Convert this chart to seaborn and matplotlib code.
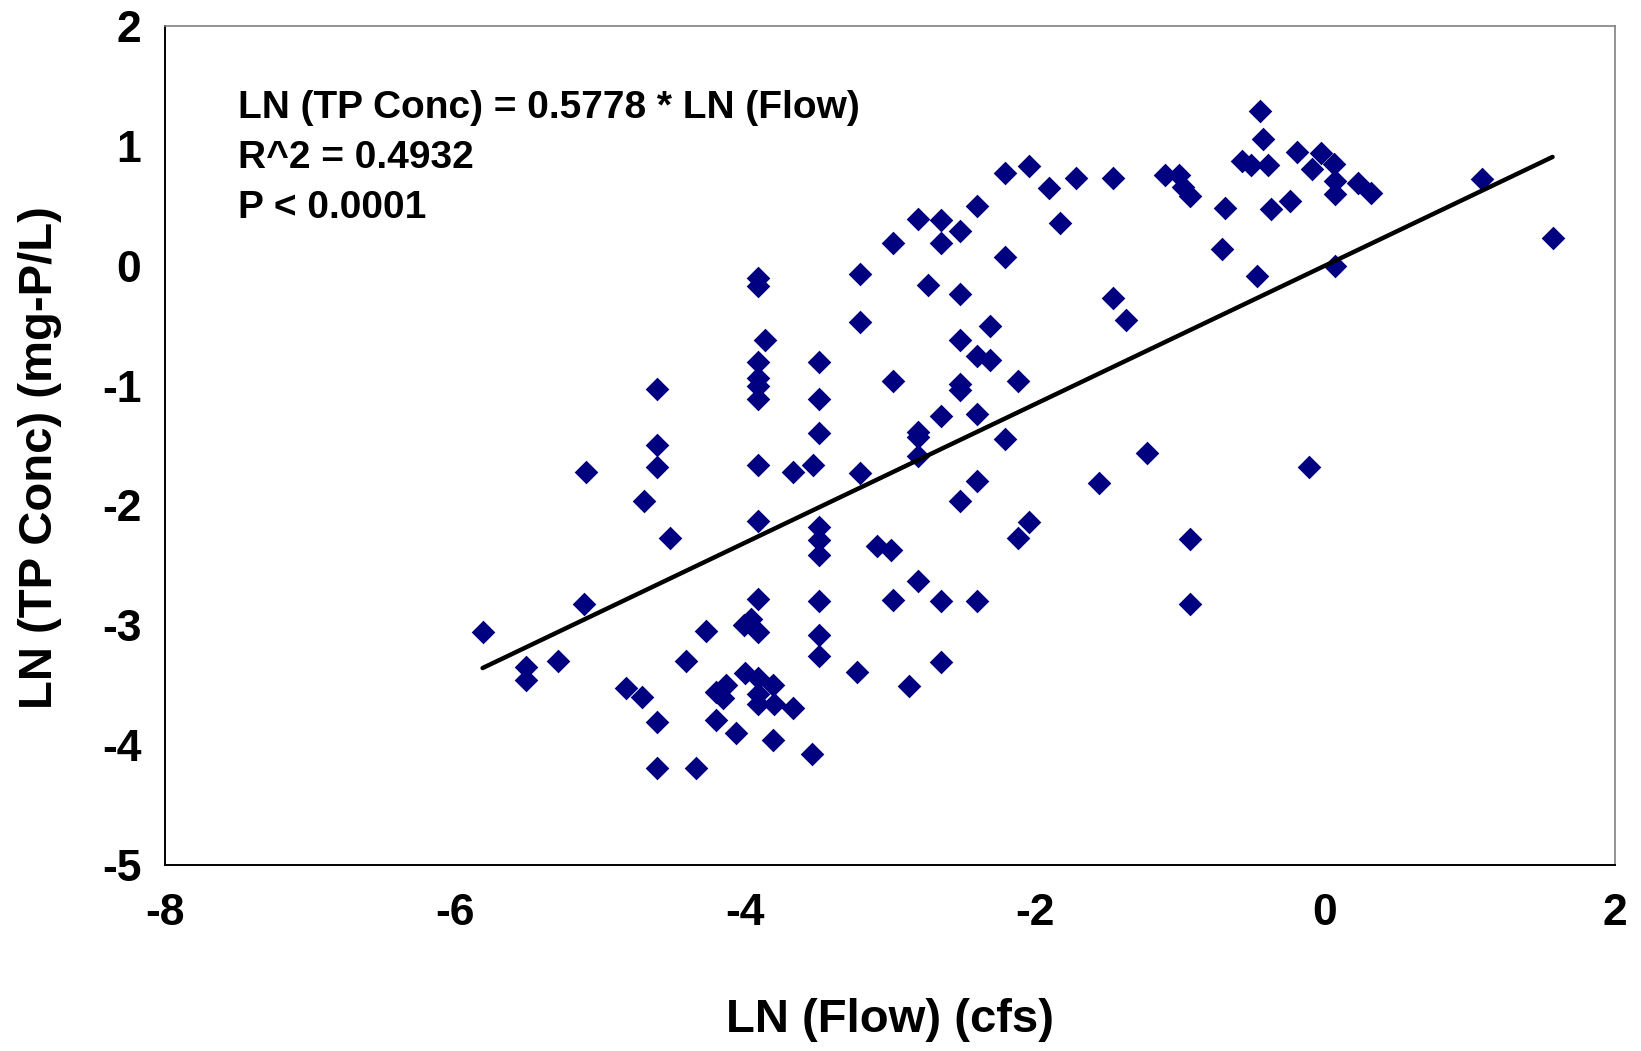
import numpy as np
import pandas as pd
import matplotlib
matplotlib.use("Agg")
import matplotlib.pyplot as plt
import seaborn as sns

# LN(Flow) and LN(TP Conc)
ln_flow = [
    -5.81, -5.51, -5.51, -5.29, -5.11, -5.10, -4.82, -4.71, -4.70, -4.61,
    -4.61, -4.61, -4.61, -4.61, -4.52, -4.41, -4.34, -4.27, -4.20, -4.20,
    -4.15, -4.13, -4.06, -4.00, -4.01, -3.96, -3.91, -3.91, -3.91, -3.91,
    -3.91, -3.91, -3.91, -3.91, -3.91, -3.91, -3.91, -3.91, -3.91, -3.86,
    -3.81, -3.80, -3.81, -3.67, -3.67, -3.53, -3.54, -3.49, -3.49, -3.49,
    -3.49, -3.49, -3.49, -3.49, -3.49, -3.49, -3.23, -3.21, -3.21, -3.21,
    -3.09, -2.99, -2.98, -2.98, -2.98, -2.87, -2.81, -2.81, -2.81, -2.81,
    -2.81, -2.74, -2.65, -2.65, -2.65, -2.65, -2.65, -2.52, -2.52, -2.52,
    -2.52, -2.52, -2.52, -2.40, -2.40, -2.40, -2.40, -2.40, -2.31, -2.31,
    -2.21, -2.21, -2.21, -2.12, -2.12, -2.04, -2.04, -1.90, -1.83, -1.72,
    -1.56, -1.46, -1.46, -1.37, -1.23, -1.10, -1.01, -0.98, -0.93, -0.93,
    -0.93, -0.71, -0.69, -0.57, -0.51, -0.47, -0.45, -0.43, -0.39, -0.37,
    -0.24, -0.19, -0.11, -0.09, -0.03, 0.06, 0.07, 0.07, 0.07, 0.23,
    0.32, 1.08, 1.57,
]
ln_tp = [
    -3.06, -3.35, -3.46, -3.30, -2.82, -1.72, -3.52, -3.60, -1.96, -3.81,
    -4.19, -1.03, -1.50, -1.68, -2.27, -3.30, -4.19, -3.05, -3.56, -3.79,
    -3.61, -3.50, -3.90, -3.40, -3.00, -2.95, -2.78, -3.06, -3.44, -3.57,
    -3.66, -2.13, -1.66, -1.11, -1.00, -0.94, -0.80, -0.17, -0.10, -0.62,
    -3.50, -3.66, -3.96, -1.72, -3.69, -1.66, -4.07, -0.80, -1.11, -1.40,
    -2.18, -2.29, -2.41, -2.80, -3.08, -3.26, -3.39, -0.07, -0.47, -1.73,
    -2.34, -2.37, -0.96, 0.19, -2.79, -3.51, 0.39, -1.39, -1.43, -1.59,
    -2.63, -0.16, 0.38, 0.19, -1.25, -2.80, -3.31, 0.29, -0.24, -0.62,
    -0.99, -1.04, -1.96, 0.50, -0.75, -1.24, -1.80, -2.80, -0.50, -0.79,
    0.77, 0.07, -1.45, -0.96, -2.27, -2.14, 0.83, 0.65, 0.36, 0.73,
    -1.81, 0.73, -0.27, -0.45, -1.56, 0.76, 0.76, 0.66, 0.58, -2.28,
    -2.82, 0.14, 0.48, 0.87, 0.84, -0.09, 1.29, 1.06, 0.84, 0.47,
    0.54, 0.95, -1.68, 0.81, 0.94, 0.85, 0.71, 0.60, 0.00, 0.69,
    0.61, 0.72, 0.23,
]
slope = 0.5778
stats_lines = ["LN (TP Conc) = 0.5778 * LN (Flow)", "R^2 = 0.4932", "P < 0.0001"]

df = pd.DataFrame({"flow": ln_flow, "tp": ln_tp})

sns.set_style("white")
plt.rcParams["font.family"] = ["Liberation Sans", "DejaVu Sans"]
plt.rcParams["font.weight"] = "bold"
plt.rcParams["axes.unicode_minus"] = False
plt.rcParams["text.color"] = "black"
plt.rcParams["axes.labelcolor"] = "black"
plt.rcParams["xtick.color"] = "black"
plt.rcParams["ytick.color"] = "black"

fig = plt.figure(figsize=(16.41, 10.51), dpi=100)
ax = fig.add_axes([0.1006, 0.177, 0.8835, 0.7983])

sns.scatterplot(data=df, x="flow", y="tp", ax=ax, marker="D", s=145,
                color="#000080", linewidth=0, zorder=3)

# fitted line through origin over the data range
xf = np.array([df["flow"].min(), df["flow"].max()])
ax.plot(xf, slope * xf, color="black", linewidth=3.2, zorder=4)

ax.set_xlim(-8, 2)
ax.set_ylim(-5, 2)
ax.set_xticks(range(-8, 3, 2))
ax.set_yticks(range(-5, 3, 1))
ax.tick_params(axis="both", direction="out", length=8, width=1.2,
               labelsize=32, color="black")
ax.tick_params(axis="x", pad=12)
ax.tick_params(axis="y", pad=9)
for lab in ax.get_xticklabels() + ax.get_yticklabels():
    lab.set_fontweight("bold")

ax.set_xlabel("LN (Flow) (cfs)", fontsize=34, fontweight="bold", va="center")
ax.xaxis.set_label_coords(0.5, -0.185)
ax.set_ylabel("LN (TP Conc) (mg-P/L)", fontsize=34, fontweight="bold", va="center")
ax.yaxis.set_label_coords(-0.086, 0.486)

for side in ["left", "bottom"]:
    ax.spines[side].set_color("black")
    ax.spines[side].set_linewidth(1.4)
for side in ["top", "right"]:
    ax.spines[side].set_color("#808080")
    ax.spines[side].set_linewidth(1.2)

for i, line in enumerate(stats_lines):
    ax.text(0.050, 0.9026 - i * 0.06, line, transform=ax.transAxes,
            fontsize=28, fontweight="bold", va="center", ha="left")

fig.savefig("out.png", dpi=100, facecolor="white")
